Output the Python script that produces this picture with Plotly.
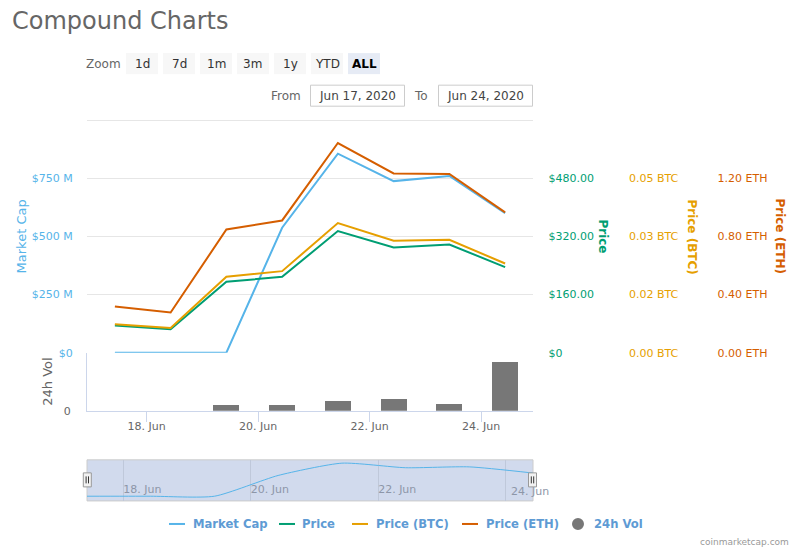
import plotly.graph_objects as go
import pandas as pd

# ---------------- data ----------------
dates = ["2020-06-17 10:20", "2020-06-18 10:20", "2020-06-19 10:20", "2020-06-20 10:20",
         "2020-06-21 10:20", "2020-06-22 10:20", "2020-06-23 10:20", "2020-06-24 10:20"]
market_cap = [0, 0, 0, 537.5e6, 856e6, 738e6, 760e6, 600e6]
price_usd = [74.5, 64.4, 195.0, 208.8, 334.7, 289.7, 297.9, 235.4]
price_btc = [0.00781, 0.00681, 0.02088, 0.02244, 0.03568, 0.03081, 0.03108, 0.02455]
price_eth = [0.317, 0.276, 0.848, 0.910, 1.443, 1.234, 1.230, 0.966]
volume_24h = [0, 0, 6.2e6, 6.0e6, 10.3e6, 12.1e6, 7.4e6, 49.5e6]

mcap_ticks = [0, 250e6, 500e6, 750e6, 1000e6]
mcap_labels = ["$0", "$250 M", "$500 M", "$750 M", ""]
usd_ticks = [0, 160, 320, 480, 640]
usd_labels = ["$0", "$160.00", "$320.00", "$480.00", ""]
btc_ticks = [0, 0.016, 0.032, 0.048, 0.064]
btc_labels = ["0.00 BTC", "0.02 BTC", "0.03 BTC", "0.05 BTC", ""]
eth_ticks = [0, 0.4, 0.8, 1.2, 1.6]
eth_labels = ["0.00 ETH", "0.40 ETH", "0.80 ETH", "1.20 ETH", ""]
vol_ticks = [0]
vol_labels = ["0"]

series_names = ["Market Cap", "Price", "Price (BTC)", "Price (ETH)", "24h Vol"]
zoom_buttons = ["1d", "7d", "1m", "3m", "1y", "YTD", "ALL"]
from_date = "Jun 17, 2020"
to_date = "Jun 24, 2020"

# ---------------- styling ----------------
W, H = 800, 550
HY = 542.0               # effective vertical scale observed in the rendered shot
C_MCAP = "#56B4E9"
C_USD = "#009E73"
C_BTC = "#E69F00"
C_ETH = "#D55E00"
C_VOL = "#777777"
FONT = "DejaVu Sans"
colors = [C_MCAP, C_USD, C_BTC, C_ETH, C_VOL]


def px(x):
    return x / W


def py(y):
    return 1 - y / HY


t = pd.to_datetime(dates)
half_day = pd.Timedelta(hours=12)
x_range = [t[0] - half_day, t[-1] + half_day]

K = 1.005  # tiny headroom so the top grid line is drawn

fig = go.Figure()
fig.add_trace(go.Scatter(x=t, y=market_cap, name=series_names[0], mode="lines",
                         line=dict(color=C_MCAP, width=2), xaxis="x", yaxis="y"))
fig.add_trace(go.Scatter(x=t, y=price_usd, name=series_names[1], mode="lines",
                         line=dict(color=C_USD, width=2), xaxis="x", yaxis="y2"))
fig.add_trace(go.Scatter(x=t, y=price_btc, name=series_names[2], mode="lines",
                         line=dict(color=C_BTC, width=2), xaxis="x", yaxis="y3"))
fig.add_trace(go.Scatter(x=t, y=price_eth, name=series_names[3], mode="lines",
                         line=dict(color=C_ETH, width=2), xaxis="x", yaxis="y4"))
fig.add_trace(go.Bar(x=t, y=volume_24h, name=series_names[4], marker=dict(color=C_VOL, line=dict(width=0)),
                     width=0.47 * 86400000, xaxis="x", yaxis="y5"))
# navigator series
fig.add_trace(go.Scatter(x=t, y=market_cap, mode="lines",
                         line=dict(color=C_MCAP, width=1, shape="spline", smoothing=0.6),
                         xaxis="x2", yaxis="y6", hoverinfo="skip", name="Navigator"))

x_dom = [px(87), px(533)]
main_top = 352 - 232 * K
main_dom = [py(352), py(main_top)]
vol_dom = [py(410), py(352)]
nav_dom = [py(500), py(459)]

fig.update_layout(
    width=W, height=H,
    margin=dict(l=0, r=0, t=0, b=0),
    paper_bgcolor="white", plot_bgcolor="white",
    font=dict(family=FONT, size=11, color="#666666"),
    showlegend=False,
    bargap=0,
    xaxis=dict(domain=x_dom, anchor="y5", range=x_range, type="date",
               tickformat="%d. %b", dtick=2 * 86400000, tick0="2020-06-18",
               showgrid=False, showline=True, linecolor="#ccd6eb", linewidth=1,
               ticks="outside", ticklen=10, tickcolor="#ccd6eb", ticklabelstandoff=-5,
               tickfont=dict(family=FONT, size=11, color="#666666"), zeroline=False),
    yaxis=dict(domain=main_dom, anchor="x", range=[0, 1000e6 * K], tickvals=mcap_ticks, ticktext=mcap_labels,
               showgrid=True, gridcolor="#e6e6e6", gridwidth=1, zeroline=False, showline=False,
               ticks="outside", ticklen=11, tickcolor="rgba(0,0,0,0)",
               tickfont=dict(family=FONT, size=11, color=C_MCAP)),
    yaxis2=dict(overlaying="y", side="right", anchor="free", position=px(547.5), range=[0, 640 * K],
                tickvals=usd_ticks, ticktext=usd_labels, showgrid=False, zeroline=False,
                ticks="", tickfont=dict(family=FONT, size=11, color=C_USD)),
    yaxis3=dict(overlaying="y", side="right", anchor="free", position=px(628), range=[0, 0.064 * K],
                tickvals=btc_ticks, ticktext=btc_labels, showgrid=False, zeroline=False,
                ticks="", tickfont=dict(family=FONT, size=11, color=C_BTC)),
    yaxis4=dict(overlaying="y", side="right", anchor="free", position=px(716.5), range=[0, 1.6 * K],
                tickvals=eth_ticks, ticktext=eth_labels, showgrid=False, zeroline=False,
                ticks="", tickfont=dict(family=FONT, size=11, color=C_ETH)),
    yaxis5=dict(domain=vol_dom, anchor="x", range=[0, 58e6], tickvals=vol_ticks, ticktext=vol_labels,
                showgrid=False, zeroline=False, showline=True, linecolor="#ccd6eb", linewidth=1,
                ticks="outside", ticklen=13, tickcolor="rgba(0,0,0,0)",
                tickfont=dict(family=FONT, size=11, color="#666666")),
    xaxis2=dict(domain=x_dom, anchor="y6", range=[t[0], t[-1]], type="date",
                tickformat="%d. %b", dtick=2 * 86400000, tick0="2020-06-18",
                showgrid=True, gridcolor="#bfc8da", gridwidth=1, showline=False, zeroline=False,
                ticks="", ticklabelposition="inside right",
                tickfont=dict(family=FONT, size=11, color="#8d96a8")),
    yaxis6=dict(domain=nav_dom, anchor="x2", range=[-122e6, 942e6], visible=False,
                showgrid=False, zeroline=False),
)

shapes = []
annotations = []
# navigator mask + outline
shapes.append(dict(type="rect", xref="x2 domain", yref="y6 domain", x0=0, x1=1, y0=0, y1=1,
                   fillcolor="rgba(102,133,194,0.3)", line=dict(color="#cccccc", width=1), layer="below"))
# last navigator tick label overflows the navigator on the right
annotations.append(dict(text=t[-1].strftime("%d. %b"), xref="x2", yref="y6 domain",
                        x=t[-1].normalize(), y=0.22, xanchor="left", yanchor="middle", xshift=3,
                        showarrow=False, font=dict(family=FONT, size=11, color="#8d96a8")))
# navigator handles
for hx in (87.3, 532.5):
    shapes.append(dict(type="rect", xref="paper", yref="paper", x0=px(hx - 4), x1=px(hx + 4),
                       y0=py(486), y1=py(472), fillcolor="#f2f2f2", line=dict(color="#999999", width=1),
                       layer="above"))
    for dx in (-1.2, 1.2):
        shapes.append(dict(type="line", xref="paper", yref="paper", x0=px(hx + dx), x1=px(hx + dx),
                           y0=py(482.5), y1=py(475.5), line=dict(color="#333333", width=1), layer="above"))

# title
annotations.append(dict(text="Compound Charts", xref="paper", yref="paper", x=px(10), y=py(21),
                        xanchor="left", yanchor="middle", showarrow=False,
                        font=dict(family=FONT, size=24, color="#666666")))
# zoom label and buttons
annotations.append(dict(text="Zoom", xref="paper", yref="paper", x=px(123), y=py(63.5),
                        xanchor="right", yanchor="middle", showarrow=False,
                        font=dict(family=FONT, size=12, color="#666666")))
for i, lab in enumerate(zoom_buttons):
    x0 = 126 + 37 * i
    sel = lab == "ALL"
    shapes.append(dict(type="rect", xref="paper", yref="paper", x0=px(x0), x1=px(x0 + 32),
                       y0=py(74), y1=py(53), fillcolor="#e6ebf5" if sel else "#f7f7f7",
                       line=dict(width=0), layer="above"))
    annotations.append(dict(text=f"<b>{lab}</b>" if sel else lab, xref="paper", yref="paper",
                            x=px(x0 + 16), y=py(63.5), xanchor="center", yanchor="middle", showarrow=False,
                            font=dict(family=FONT, size=12, color="#000000" if sel else "#333333")))
# from / to inputs
annotations.append(dict(text="From", xref="paper", yref="paper", x=px(303), y=py(95.5),
                        xanchor="right", yanchor="middle", showarrow=False,
                        font=dict(family=FONT, size=12, color="#666666")))
annotations.append(dict(text="To", xref="paper", yref="paper", x=px(430), y=py(95.5),
                        xanchor="right", yanchor="middle", showarrow=False,
                        font=dict(family=FONT, size=12, color="#666666")))
for (bx0, bx1, txt) in ((310.5, 404.5, from_date), (438.5, 532.5, to_date)):
    shapes.append(dict(type="rect", xref="paper", yref="paper", x0=px(bx0), x1=px(bx1),
                       y0=py(106), y1=py(85), fillcolor="white", line=dict(color="#cccccc", width=1),
                       layer="above"))
    annotations.append(dict(text=txt, xref="paper", yref="paper", x=px((bx0 + bx1) / 2), y=py(95.5),
                            xanchor="center", yanchor="middle", showarrow=False,
                            font=dict(family=FONT, size=12, color="#444444")))
# axis titles
annotations.append(dict(text="Market Cap", xref="paper", yref="paper", x=px(21), y=py(236),
                        xanchor="center", yanchor="middle", textangle=-90, showarrow=False,
                        font=dict(family=FONT, size=13, color=C_MCAP)))
annotations.append(dict(text="24h Vol", xref="paper", yref="paper", x=px(48), y=py(381),
                        xanchor="center", yanchor="middle", textangle=-90, showarrow=False,
                        font=dict(family=FONT, size=13, color="#666666")))
for (ax_x, txt, col) in ((603, "Price", C_USD), (692, "Price (BTC)", C_BTC), (780, "Price (ETH)", C_ETH)):
    annotations.append(dict(text=f"<b>{txt}</b>", xref="paper", yref="paper", x=px(ax_x), y=py(236),
                            xanchor="center", yanchor="middle", textangle=90, showarrow=False,
                            font=dict(family=FONT, size=12, color=col)))

# legend (Highcharts-style: short symbol + bold blue text)
LEG_Y = 523
leg_sym_x = [169, 279, 352, 462, 572]
leg_txt_x = [190.5, 300, 374, 483.5, 592]
for i, name in enumerate(series_names):
    if i < 4:
        shapes.append(dict(type="line", xref="paper", yref="paper", x0=px(leg_sym_x[i]),
                           x1=px(leg_sym_x[i] + 16), y0=py(LEG_Y), y1=py(LEG_Y),
                           line=dict(color=colors[i], width=2), layer="above"))
    else:
        shapes.append(dict(type="circle", xref="paper", yref="paper", x0=px(leg_sym_x[i]),
                           x1=px(leg_sym_x[i] + 12), y0=py(LEG_Y + 6), y1=py(LEG_Y - 6),
                           fillcolor=colors[i], line=dict(width=0), layer="above"))
    annotations.append(dict(text=f"<b>{name}</b>", xref="paper", yref="paper", x=px(leg_txt_x[i]),
                            y=py(LEG_Y), xanchor="left", yanchor="middle", showarrow=False,
                            font=dict(family=FONT, size=11.6, color="#5e9bd4")))
# credit
annotations.append(dict(text="coinmarketcap.com", xref="paper", yref="paper", x=px(791), y=py(541),
                        xanchor="right", yanchor="middle", showarrow=False,
                        font=dict(family=FONT, size=9, color="#999999")))

fig.update_layout(shapes=shapes, annotations=annotations)

fig.write_html("out.html")
